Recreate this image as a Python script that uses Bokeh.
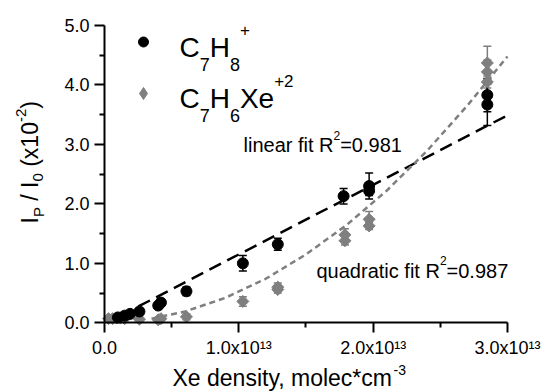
from bokeh.plotting import figure
from bokeh.models import (ColumnDataSource, Whisker, TeeHead, Label, FixedTicker,
                          Legend, LegendItem)
from bokeh.core.properties import value
from bokeh.embed import file_html
from bokeh.resources import INLINE
import math

# ---------------- data (x in units of 1e13 molec/cm^3, y in units of 1e-2) -------------
c7h8_x   = [0.10, 0.15, 0.19, 0.26, 0.40, 0.42, 0.61, 1.03, 1.29, 1.78, 1.97, 1.97, 2.85, 2.85]
c7h8_y   = [0.09, 0.12, 0.15, 0.19, 0.29, 0.34, 0.53, 1.00, 1.32, 2.13, 2.22, 2.30, 3.67, 3.83]
c7h8_err = [0.02, 0.03, 0.03, 0.04, 0.05, 0.06, 0.07, 0.13, 0.10, 0.13, 0.08, 0.22, 0.35, 0.28]

xe_x   = [0.03, 0.06, 0.09, 0.12, 0.15, 0.26, 0.40, 0.42, 0.61, 1.03, 1.29, 1.29, 1.79, 1.79, 1.97, 1.97, 2.85, 2.85, 2.85]
xe_y   = [0.07, 0.07, 0.08, 0.08, 0.07, 0.06, 0.05, 0.07, 0.10, 0.36, 0.56, 0.60, 1.38, 1.48, 1.63, 1.74, 4.05, 4.22, 4.37]
xe_err = [0.02, 0.02, 0.02, 0.02, 0.02, 0.03, 0.03, 0.04, 0.05, 0.08, 0.06, 0.07, 0.07, 0.10, 0.06, 0.13, 0.10, 0.20, 0.28]

lin_fit_x = [0.12, 3.00]
lin_fit_y = [0.12, 3.49]

quad_fit_x = [0.35, 0.60, 0.90, 1.20, 1.50, 1.80, 2.10, 2.40, 2.70, 3.00]
quad_fit_y = [0.07, 0.19, 0.42, 0.74, 1.15, 1.64, 2.22, 2.89, 3.65, 4.48]

x_ticks = [0, 1, 2, 3]
x_tick_labels = ["0.0", "1.0x10\u00b9\u00b3", "2.0x10\u00b9\u00b3", "3.0x10\u00b9\u00b3"]
y_ticks = [0, 1, 2, 3, 4, 5]
y_tick_labels = ["0.0", "1.0", "2.0", "3.0", "4.0", "5.0"]

BLACK = "#000000"
GRAY = "#7f7f7f"
FONT = "Liberation Sans"

# layout: canvas pixel of the axes origin and pixels per data unit
W_PX, H_PX = 546, 391
OX, OY = 104.0, 322.3
SX, SY = 134.33, 59.46

p = figure(width=W_PX, height=H_PX, output_backend="svg", toolbar_location=None,
           x_range=(-OX / SX, (W_PX - OX) / SX), y_range=(-(H_PX - OY) / SY, OY / SY),
           min_border_left=0, min_border_right=0, min_border_top=0, min_border_bottom=0)
p.outline_line_color = None
p.xgrid.visible = False
p.ygrid.visible = False
p.background_fill_color = "white"

for ax in (p.xaxis[0], p.yaxis[0]):
    ax.fixed_location = 0
    ax.axis_line_width = 2
    ax.major_tick_line_width = 2
    ax.minor_tick_line_width = 2
    ax.major_tick_out = 10
    ax.major_tick_in = 0
    ax.minor_tick_out = 5
    ax.minor_tick_in = 0
    ax.major_label_text_font = FONT
    ax.major_label_text_font_size = "18px"
    ax.major_label_text_color = BLACK
    ax.major_label_standoff = 5

p.xaxis[0].bounds = (0, 3)
p.yaxis[0].bounds = (0, 5)
p.xaxis[0].ticker = FixedTicker(ticks=x_ticks, minor_ticks=[0.5, 1.5, 2.5])
p.yaxis[0].ticker = FixedTicker(ticks=y_ticks, minor_ticks=[0.5, 1.5, 2.5, 3.5, 4.5])
p.xaxis[0].major_label_overrides = {t: l for t, l in zip(x_ticks, x_tick_labels)}
p.yaxis[0].major_label_overrides = {t: l for t, l in zip(y_ticks, y_tick_labels)}

# ---------------- error bars -------------
src_b = ColumnDataSource(dict(x=c7h8_x, y=c7h8_y,
                              lo=[a - b for a, b in zip(c7h8_y, c7h8_err)],
                              hi=[a + b for a, b in zip(c7h8_y, c7h8_err)]))
src_g = ColumnDataSource(dict(x=xe_x, y=xe_y,
                              lo=[a - b for a, b in zip(xe_y, xe_err)],
                              hi=[a + b for a, b in zip(xe_y, xe_err)]))

for src, col in ((src_g, GRAY), (src_b, BLACK)):
    w = Whisker(source=src, base="x", lower="lo", upper="hi", dimension="height",
                line_color=col, line_width=1.5, level="underlay",
                upper_head=TeeHead(size=8, line_color=col, line_width=1.5),
                lower_head=TeeHead(size=8, line_color=col, line_width=1.5))
    p.add_layout(w)

# ---------------- fits -------------
p.line(lin_fit_x, lin_fit_y, line_color=BLACK, line_width=2.5, line_dash="13 7")
p.line(quad_fit_x, quad_fit_y, line_color=GRAY, line_width=2.5, line_dash="6 4")

# ---------------- points -------------
r_g = p.scatter("x", "y", source=src_g, marker="square", size=8.5, angle=math.pi / 4,
                fill_color=GRAY, line_color=GRAY)
r_b = p.scatter("x", "y", source=src_b, marker="circle", size=11,
                fill_color=BLACK, line_color=BLACK)

# legend-only glyph (legends draw markers unrotated); hidden from the plot itself
r_g_leg = p.scatter("x", "y", source=src_g, marker="diamond", size=15,
                    fill_color=GRAY, line_color=GRAY, visible=False)

common = dict(location="top_left", padding=0, spacing=0, label_width=0, label_standoff=0,
              label_text_font_size="1px", click_policy="none",
              border_line_color=None, background_fill_alpha=0)
legend1 = Legend(items=[LegendItem(label=value(""), renderers=[r_b])],
                 margin=29, glyph_height=25, glyph_width=228, label_height=25, **common)
legend2 = Legend(items=[LegendItem(label=value(""), renderers=[r_g_leg])],
                 margin=78, glyph_height=30, glyph_width=130, label_height=30, **common)
p.add_layout(legend1)
p.add_layout(legend2)

# ---------------- rich text helper (offsets in px from the axes origin) -------------
W = {' ': .278, '.': .278, ',': .278, '*': .389, '-': .333, '/': .278, '(': .333, ')': .333,
     '+': .584, '=': .584, '0': .556, '1': .556, '2': .556, '3': .556, '4': .556, '5': .556,
     '6': .556, '7': .556, '8': .556, '9': .556, 'C': .722, 'H': .722, 'I': .278, 'P': .667,
     'R': .722, 'X': .667, 'a': .556, 'c': .5, 'd': .556, 'e': .556, 'f': .278, 'i': .222,
     'l': .222, 'm': .833, 'n': .556, 'o': .556, 'q': .556, 'r': .333, 's': .5, 't': .278,
     'u': .556, 'x': .5, 'y': .5}


def tw(s, size):
    return sum(W.get(ch, .556) for ch in s) * size


def rich(dx, dy, pieces, vertical=False, color=BLACK):
    adv = 0.0
    for text, size, shift in pieces:
        lead = len(text) - len(text.lstrip(' '))
        adv += lead * W[' '] * size
        t = text.strip(' ')
        up = shift + 0.3 * size + 1  # baseline correction observed in the svg output
        if vertical:
            xo, yo, ang = dx - up, dy + adv, math.pi / 2
        else:
            xo, yo, ang = dx + adv, dy + up, 0.0
        p.add_layout(Label(x=0, y=0, x_offset=xo, y_offset=yo, text=t, angle=ang,
                           text_font=FONT, text_font_size=f"{size}px",
                           text_color=color, text_align="left", text_baseline="alphabetic"))
        adv += tw(t, size)
        trail = len(text) - len(text.rstrip(' '))
        adv += trail * W[' '] * size


def at(px, py):
    return px - OX, OY - py


# legend texts
rich(*at(179, 56), [("C", 28, 0), ("7", 18, -14), ("H", 28, 0), ("8", 18, -14), ("+", 17, 20)])
rich(*at(179, 107), [("C", 28, 0), ("7", 18, -14), ("H", 28, 0), ("6", 18, -14), ("Xe", 28, 0),
                     ("+2", 17, 20)])

# fit annotations
rich(*at(243, 151.7), [("linear fit R", 20, 0), ("2", 12, 12), ("=0.981", 20, 0)])
rich(*at(316, 277), [("quadratic fit R", 20, 0), ("2", 12, 12), ("=0.987", 20, 0)])

# axis titles
rich(*at(172, 385), [("Xe density, molec*cm", 23, 0), ("-3", 14, 10)])
rich(*at(37, 223), [("I", 23, 0), ("P", 15, -6), (" / I", 23, 0), ("0", 15, -6),
                    (" (x10", 23, 0), ("-2", 15, 11), (")", 23, 0)], vertical=True)

open("out.html", "w").write(file_html(p, INLINE))
